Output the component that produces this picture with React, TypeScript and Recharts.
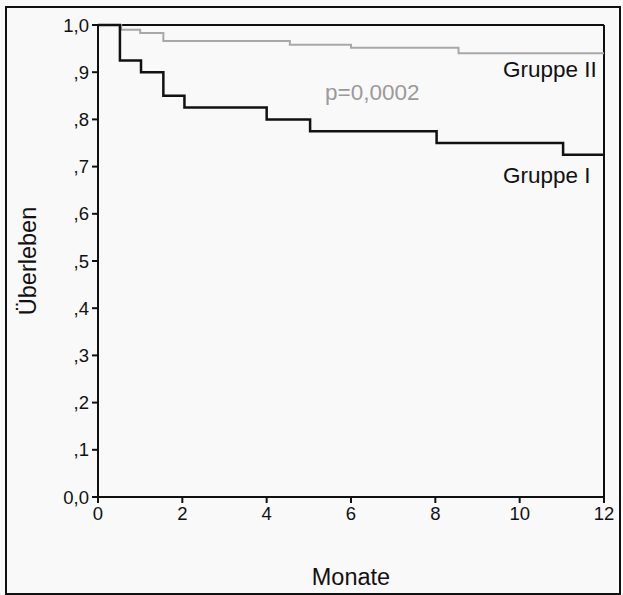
import { LineChart, Line, XAxis, YAxis, ReferenceLine, Label } from 'recharts';

// Kaplan-Meier Überleben, Monate
const monthsGroupI = [0, 0.52, 1.02, 1.55, 2.05, 4.0, 5.03, 8.03, 11.03, 12];
const survivalGroupI = [1, 0.925, 0.9, 0.85, 0.825, 0.8, 0.775, 0.75, 0.725, 0.725];

const monthsGroupII = [0, 0.55, 1.0, 1.55, 4.55, 6.0, 8.55, 12];
const survivalGroupII = [1, 0.99, 0.983, 0.966, 0.958, 0.952, 0.94, 0.94];

const xTicks = [0, 2, 4, 6, 8, 10, 12];
const yTicks = [0, 0.1, 0.2, 0.3, 0.4, 0.5, 0.6, 0.7, 0.8, 0.9, 1];

const groupI = monthsGroupI.map((t, i) => ({ t, s: survivalGroupI[i] }));
const groupII = monthsGroupII.map((t, i) => ({ t, s: survivalGroupII[i] }));

const font = '"Liberation Sans", Arial, sans-serif';

const fmtY = (v: number) => {
  if (v === 0) return '0,0';
  if (v === 1) return '1,0';
  return ',' + Math.round(v * 10);
};

export default function App() {
  return (
    <div
      style={{
        position: 'absolute',
        left: 0,
        top: 0,
        width: 623,
        height: 595,
        background: '#f9f9f9',
        fontFamily: font,
      }}
    >
      <div
        style={{
          position: 'absolute',
          left: 5,
          top: 6,
          width: 612,
          height: 585,
          border: '2px solid #111',
        }}
      />
      <LineChart
        width={623}
        height={595}
        margin={{ top: 25, right: 19, bottom: 0, left: 0 }}
        style={{ position: 'absolute', left: 0, top: 0 }}
      >
        <XAxis
          type="number"
          dataKey="t"
          domain={[0, 12]}
          ticks={xTicks}
          allowDataOverflow
          stroke="#111"
          strokeWidth={2}
          tickSize={6}
          tickMargin={4}
          fontSize={18.5}
          fontFamily={font}
          tick={{ fill: '#111', fontSize: 18.5 }}
          height={98}
        >
          <Label
            value="Monate"
            position="insideBottom"
            offset={10}
            fontSize={23.5}
            style={{ fill: '#111', fontSize: 23.5, fontFamily: font }}
          />
        </XAxis>
        <YAxis
          type="number"
          dataKey="s"
          domain={[0, 1]}
          ticks={yTicks}
          tickFormatter={fmtY}
          stroke="#111"
          strokeWidth={2}
          tickSize={6}
          tickMargin={3}
          width={98}
          fontSize={18.5}
          fontFamily={font}
          tick={{ fill: '#111', fontSize: 18.5 }}
        >
          <Label
            value="Überleben"
            angle={-90}
            position="insideLeft"
            offset={28}
            fontSize={23.5}
            style={{ fill: '#111', fontSize: 23.5, fontFamily: font, textAnchor: 'middle' }}
          />
        </YAxis>
        <ReferenceLine y={1} stroke="#111" strokeWidth={2} />
        <ReferenceLine x={12} stroke="#111" strokeWidth={2} />
        <Line
          data={groupII}
          dataKey="s"
          type="stepAfter"
          stroke="#a8a8a8"
          strokeWidth={2}
          dot={false}
          isAnimationActive={false}
        />
        <Line
          data={groupI}
          dataKey="s"
          type="stepAfter"
          stroke="#111"
          strokeWidth={2.5}
          dot={false}
          isAnimationActive={false}
        />
      </LineChart>
      <div style={{ position: 'absolute', left: 503, top: 57, fontSize: 22.5, lineHeight: '26px', color: '#111', whiteSpace: 'nowrap' }}>
        Gruppe II
      </div>
      <div style={{ position: 'absolute', left: 503, top: 163, fontSize: 22.5, lineHeight: '26px', color: '#111', whiteSpace: 'nowrap' }}>
        Gruppe I
      </div>
      <div style={{ position: 'absolute', left: 325, top: 80, fontSize: 22.5, lineHeight: '26px', color: '#9a9a9a', whiteSpace: 'nowrap' }}>
        p=0,0002
      </div>
    </div>
  );
}
